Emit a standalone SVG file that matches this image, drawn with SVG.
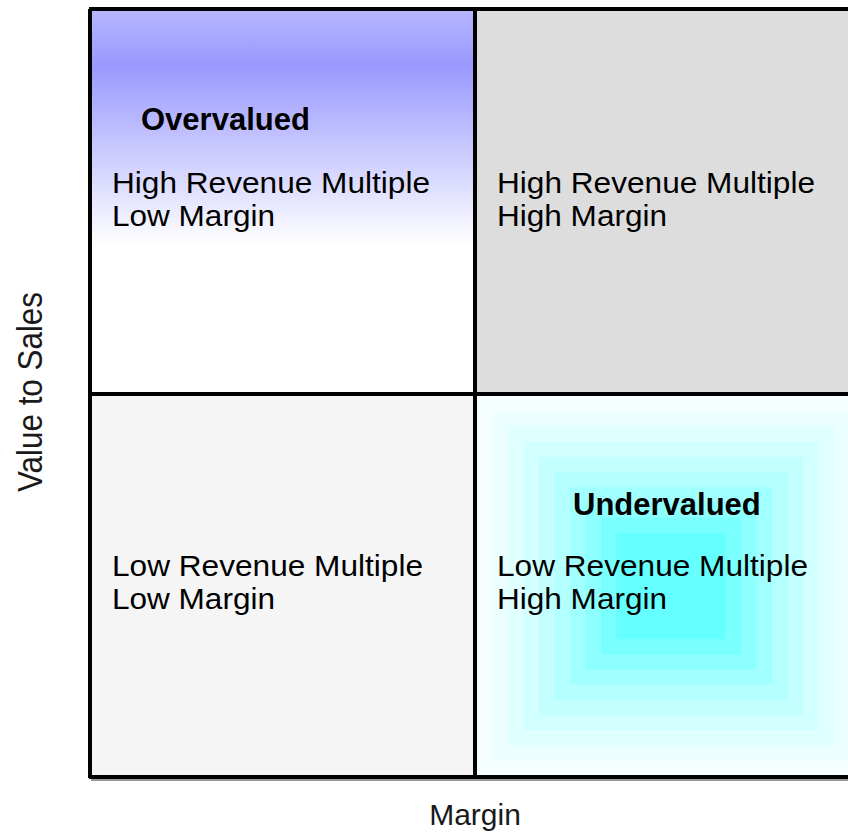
<svg xmlns="http://www.w3.org/2000/svg" width="848" height="832" viewBox="0 0 848 832">
  <style>
    .t { font-family: "Liberation Sans", Arial, sans-serif; font-size: 29px; fill: #000; }
    .b { font-weight: bold; font-size: 31px; }
    .ax { font-family: "Liberation Sans", Arial, sans-serif; fill: #1a1a1a; }
    .grid { stroke: #000; stroke-width: 4; fill: none; }
  </style>
  <defs>
    <linearGradient id="gTL" gradientUnits="userSpaceOnUse" x1="0" y1="11" x2="0" y2="245">
      <stop offset="0" stop-color="#b6b6ff"/>
      <stop offset="0.23" stop-color="#9999ff"/>
      <stop offset="1" stop-color="#ffffff"/>
    </linearGradient>
  </defs>
  <rect x="0" y="0" width="848" height="832" fill="#ffffff"/>

  <g id="cell-overvalued">
    <rect x="91" y="9" width="384" height="385" fill="url(#gTL)"/>
    <text class="t b" x="141" y="130">Overvalued</text>
    <text class="t" x="112" y="193" textLength="318" lengthAdjust="spacingAndGlyphs">High Revenue Multiple</text>
    <text class="t" x="112" y="226" textLength="163" lengthAdjust="spacingAndGlyphs">Low Margin</text>
  </g>

  <g id="cell-high-high">
    <rect x="475" y="9" width="390" height="385" fill="#dddddd"/>
    <text class="t" x="497" y="193" textLength="318" lengthAdjust="spacingAndGlyphs">High Revenue Multiple</text>
    <text class="t" x="497" y="226" textLength="170" lengthAdjust="spacingAndGlyphs">High Margin</text>
  </g>

  <g id="cell-low-low">
    <rect x="91" y="394" width="384" height="383" fill="#f5f5f5"/>
    <text class="t" x="112" y="576" textLength="311" lengthAdjust="spacingAndGlyphs">Low Revenue Multiple</text>
    <text class="t" x="112" y="609" textLength="163" lengthAdjust="spacingAndGlyphs">Low Margin</text>
  </g>

  <g id="cell-undervalued">
    <rect x="475" y="394" width="394" height="383" fill="#f6ffff"/>
    <rect x="492.5" y="411.2" width="357" height="349.6" fill="#ecffff"/>
    <rect x="508" y="426.4" width="326" height="319.2" fill="#e0ffff"/>
    <rect x="523.5" y="441.6" width="295" height="288.8" fill="#d2ffff"/>
    <rect x="539" y="456.8" width="264" height="258.4" fill="#c4ffff"/>
    <rect x="554.5" y="472" width="233" height="228" fill="#b4ffff"/>
    <rect x="570" y="487.2" width="202" height="197.6" fill="#a2ffff"/>
    <rect x="585.5" y="502.4" width="171" height="167.2" fill="#8effff"/>
    <rect x="601" y="517.6" width="140" height="136.8" fill="#7affff"/>
    <rect x="616.5" y="532.8" width="109" height="106.4" fill="#66ffff"/>
    <text class="t b" x="573" y="515">Undervalued</text>
    <text class="t" x="497" y="576" textLength="311" lengthAdjust="spacingAndGlyphs">Low Revenue Multiple</text>
    <text class="t" x="497" y="609" textLength="170" lengthAdjust="spacingAndGlyphs">High Margin</text>
  </g>

  <g id="connectors">
    <line x1="91" y1="780" x2="848" y2="780" stroke="#999999" stroke-width="2"/>
    <line class="grid" x1="89" y1="9" x2="848" y2="9"/>
    <line class="grid" x1="90" y1="9" x2="90" y2="778"/>
    <line class="grid" x1="89" y1="777" x2="848" y2="777"/>
    <line class="grid" x1="475" y1="9" x2="475" y2="777"/>
    <line class="grid" x1="90" y1="394" x2="848" y2="394"/>
  </g>

  <g id="axis-y">
    <text class="ax" transform="translate(42,392) rotate(-90)" text-anchor="middle" font-size="35" textLength="200" lengthAdjust="spacingAndGlyphs">Value to Sales</text>
  </g>
  <g id="axis-x">
    <text class="ax" x="475" y="825" text-anchor="middle" font-size="30">Margin</text>
  </g>
</svg>
